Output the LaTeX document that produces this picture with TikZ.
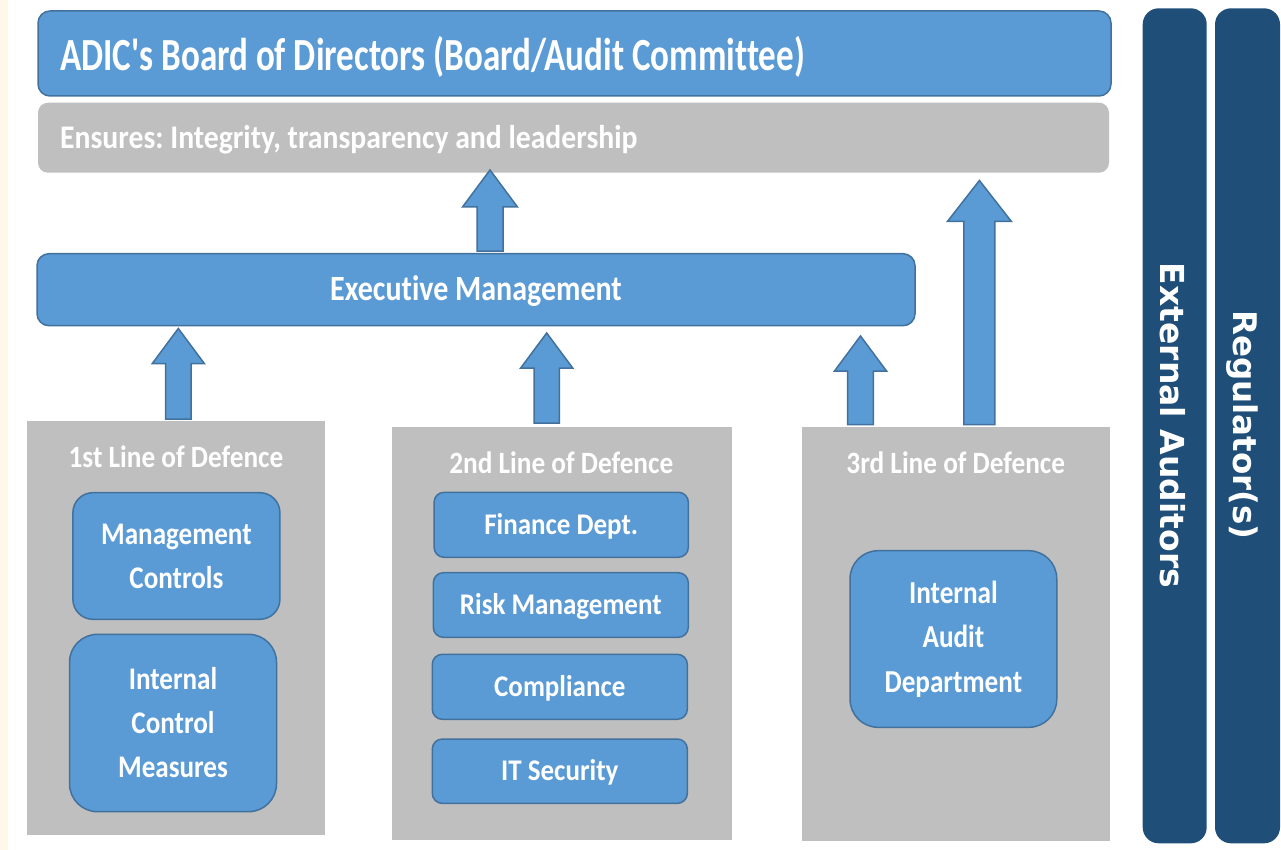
\documentclass[tikz,border=0pt]{standalone}
\usepackage{fontspec}
\setmainfont{Carlito}[Ligatures={TeXOff,NoCommon}]
\newfontfamily\rotfont{DejaVu Sans}
\newcommand\cf[3]{\fontspec{Carlito}[FakeStretch=#1,Ligatures={TeXOff,NoCommon}]\bfseries\fontsize{#2}{#3}\selectfont}
\frenchspacing
\usetikzlibrary{calc}
\definecolor{bfill}{HTML}{5B9BD5}
\definecolor{bline}{HTML}{41719C}
\definecolor{gfill}{HTML}{BFBFBF}
\definecolor{dbar}{HTML}{1F4E79}
\definecolor{cream}{HTML}{FFF8E8}
\newcommand\blockarrow[5]{%
  \draw[uparrow] let \p1=(#1),\p2=(#2) in
    (\x1-#3,\y1) -- (\x1-#3,\y2-#5) -- (\x1-#4,\y2-#5) -- (\x1,\y2) --
    (\x1+#4,\y2-#5) -- (\x1+#3,\y2-#5) -- (\x1+#3,\y1) -- cycle;}
\begin{document}
\frenchspacing
\begin{tikzpicture}[x=1pt,y=-1pt,
  bluebox/.style={draw=bline,line width=1.5pt,fill=bfill,inner sep=0pt,text=white},
  graybox/.style={fill=gfill,inner sep=0pt},
  darkbar/.style={fill=dbar,rounded corners=16pt,inner sep=0pt,minimum height=835pt},
  wtext/.style={text=white,inner sep=0pt},
  uparrow/.style={draw=bline,line width=1.5pt,fill=bfill,line join=miter}]
\useasboundingbox (0,0) rectangle (1281,850);
\fill[cream] (0,0) rectangle (7.5,850);

% top boxes
\node[bluebox,rounded corners=12pt,minimum width=1073pt,minimum height=85pt] (board) at (574.5,53.5) {};
\node[wtext,anchor=base west,font=\cf{0.762}{46}{50}] (boardtxt) at (60,71)
  {ADIC's Board of Directors (Board/Audit Committee)};
\node[graybox,rounded corners=10pt,minimum width=1071pt,minimum height=70pt] (ens) at (573.5,137.7) {};
\node[wtext,anchor=base west,font=\cf{0.90}{33}{38}] (enstxt) at (60,149)
  {Ensures: Integrity, transparency and leadership};

% executive management
\node[bluebox,rounded corners=12pt,minimum width=878pt,minimum height=72pt,
  text height=22.4pt,text depth=0pt,font=\cf{0.845}{35.5}{40}] (exec) at (476,289.7)
  {Executive Management};

% lines of defence
\node[graybox,minimum width=297.7pt,minimum height=414pt] (l1) at (176.2,628) {};
\node[graybox,minimum width=340.6pt,minimum height=413.3pt] (l2) at (562,633.4) {};
\node[graybox,minimum width=308.3pt,minimum height=414.3pt] (l3) at (955.9,633.9) {};
\node[wtext,anchor=base,font=\cf{0.88}{31}{36}] (l1txt) at (176,467.7) {1st Line of Defence};
\node[wtext,anchor=base,font=\cf{0.88}{31}{36}] (l2txt) at (561.3,473.3) {2nd Line of Defence};
\node[wtext,anchor=base,font=\cf{0.88}{31}{36}] (l3txt) at (955.8,473) {3rd Line of Defence};

% inner boxes
\node[bluebox,rounded corners=20pt,minimum width=207pt,minimum height=126.6pt,align=center,
  font=\cf{0.86}{31.5}{44}] (mc) at (176.4,556) {Management\\Controls};
\node[bluebox,rounded corners=28pt,minimum width=207pt,minimum height=177.4pt,align=center,
  font=\cf{0.86}{31.5}{44}] (icm) at (173,723) {Internal\\Control\\Measures};
\node[bluebox,rounded corners=10pt,minimum width=254.3pt,minimum height=65pt,text height=19pt,text depth=0pt,
  font=\cf{0.90}{30}{34}] (fin) at (561.2,524.8) {Finance Dept.};
\node[bluebox,rounded corners=10pt,minimum width=255pt,minimum height=64.6pt,text height=19pt,text depth=0pt,
  font=\cf{0.90}{30}{34}] (risk) at (560.8,605) {Risk Management};
\node[bluebox,rounded corners=10pt,minimum width=255pt,minimum height=65pt,text height=19pt,text depth=0pt,
  font=\cf{0.90}{30}{34}] (comp) at (559.8,686.8) {Compliance};
\node[bluebox,rounded corners=10pt,minimum width=255pt,minimum height=64.4pt,text height=19pt,text depth=0pt,
  font=\cf{0.90}{30}{34}] (its) at (559.8,771.2) {IT Security};
\node[bluebox,rounded corners=28pt,minimum width=206.7pt,minimum height=176.6pt,align=center,
  font=\cf{0.85}{32}{44.5}] (iad) at (953.4,639) {Internal\\Audit\\Department};

% right bars
\node[darkbar,minimum width=64pt] (ext) at (1174.7,425.8) {};
\node[darkbar,minimum width=65pt] (reg) at (1247.5,425.8) {};
\node[wtext,rotate=-90,text height=24pt,text depth=0pt,font=\rotfont\bfseries\fontsize{33}{38}\selectfont]
  (exttxt) at (1172.5,425.5) {External Auditors};
\node[wtext,rotate=-90,text height=23.7pt,text depth=0pt,font=\rotfont\bfseries\fontsize{32.5}{38}\selectfont]
  (regtxt) at (1245,425) {Regulator(s)};

% arrows
\coordinate (a0b) at (490,251);   \coordinate (a0t) at (490,170);
\coordinate (arb) at (979.4,424.5); \coordinate (art) at (979.4,180.5);
\coordinate (a1b) at (178.3,419);  \coordinate (a1t) at (178.3,328.5);
\coordinate (a2b) at (546.7,423);  \coordinate (a2t) at (546.7,333);
\coordinate (a3b) at (860.5,424.5); \coordinate (a3t) at (860.5,336);
\blockarrow{a0b}{a0t}{13pt}{27.5pt}{37pt}
\blockarrow{arb}{art}{15.5pt}{32pt}{41pt}
\blockarrow{a1b}{a1t}{12.7pt}{26pt}{35pt}
\blockarrow{a2b}{a2t}{12.7pt}{26pt}{35pt}
\blockarrow{a3b}{a3t}{12.8pt}{26pt}{35pt}
\end{tikzpicture}
\end{document}
